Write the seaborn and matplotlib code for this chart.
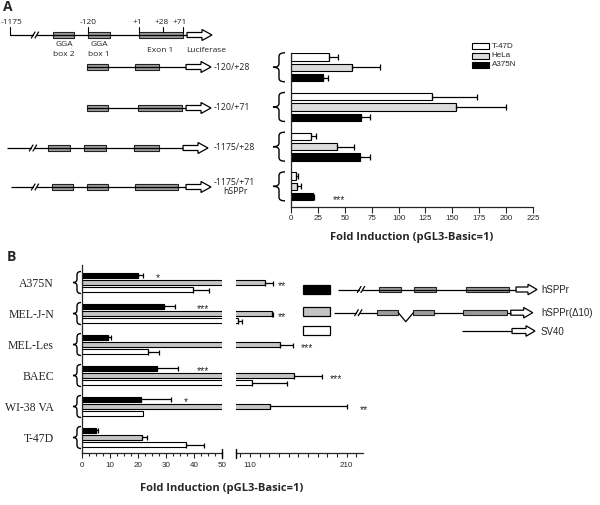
import numpy as np
import pandas as pd
import matplotlib
matplotlib.use("Agg")
import matplotlib.pyplot as plt
import seaborn as sns
from matplotlib.patches import Rectangle, Polygon, PathPatch
from matplotlib.path import Path

# ---------------- data ----------------
# Panel A
constructs_A = ['-120/+28', '-120/+71', '-1175/+28', '-1175/+71']
cells_A = ['T-47D', 'HeLa', 'A375N']
t47d_A = [35, 131, 18.6, 4.6]
t47d_A_err = [9, 42, 4.6, 1.6]
hela_A = [57, 153, 42.5, 5.9]
hela_A_err = [26, 47, 16.5, 3.4]
a375n_A = [30, 65, 64, 20]
a375n_A_err = [4.7, 8, 9.5, 1.7]
stars_A = ['', '', '', '***']          # for A375N bars
ticks_A = [0, 25, 50, 75, 100, 125, 150, 175, 200, 225]

# Panel B
cells_B = ['A375N', 'MEL-J-N', 'MEL-Les', 'BAEC', 'WI-38 VA', 'T-47D']
promoters_B = ['hSPPr', 'hSPPr(\u039410)', 'SV40']
hsppr_B = [20.1, 29.3, 9.5, 26.7, 21.0, 5.0]
hsppr_B_err = [1.6, 3.9, 0.9, 7.7, 10.8, 0.9]
d10_B = [125.5, 132.4, 141, 155.4, 130.6, 21.6]
d10_B_err = [8.5, 1, 13, 28.6, 80, 1.7]
sv40_B = [39.5, 98, 23.7, 111.8, 21.9, 37.1]
sv40_B_err = [5.9, 3.5, 3.9, 36, 0, 6.5]
stars_hsppr = ['*', '***', '', '***', '*', '']
stars_d10 = ['**', '**', '***', '***', '**', '']

# ---------------- style ----------------
sns.set_style("ticks")
plt.rcParams['font.family'] = ['Liberation Sans', 'DejaVu Sans']

W, H = 600, 505
fig = plt.figure(figsize=(6, 5.05), dpi=100)

def rect(x0, y0, x1, y1):
    return [x0 / W, 1 - y1 / H, (x1 - x0) / W, (y1 - y0) / H]

axA = fig.add_axes(rect(291, 53, 533, 207))
axB1 = fig.add_axes(rect(81.7, 265, 222.3, 453.3))
axB2 = fig.add_axes(rect(236, 265, 362.7, 453.3))

ov = fig.add_axes([0, 0, 1, 1], zorder=10)
ov.set_xlim(0, W)
ov.set_ylim(H, 0)
ov.axis('off')
ov.patch.set_alpha(0)

BOXG = '#9b9b9b'
colA = ['#ffffff', '#dcdcdc', '#000000']
colB = ['#000000', '#c4c4c4', '#ffffff']
STAR_FS = 7.5

# ---------------- panel A bars ----------------
dfA = pd.DataFrame({
    'construct': constructs_A * 3,
    'cell': np.repeat(cells_A, len(constructs_A)),
    'fold': t47d_A + hela_A + a375n_A,
    'err': t47d_A_err + hela_A_err + a375n_A_err,
})
sns.barplot(data=dfA, y='construct', x='fold', hue='cell', order=constructs_A,
            hue_order=cells_A, palette=colA, orient='h', width=0.78, gap=0.3,
            edgecolor='black', linewidth=0.8, errorbar=None, legend=False, ax=axA)
for p, e in zip(list(axA.patches), dfA['err']):
    y = p.get_y() + p.get_height() / 2
    axA.errorbar(p.get_width(), y, xerr=[[0], [e]], fmt='none', ecolor='black',
                 elinewidth=0.9, capsize=2, capthick=0.9)
a375_patches = list(axA.patches)[2 * len(constructs_A):]
for p, s in zip(a375_patches, stars_A):
    if s:
        axA.text(p.get_width() + 25, p.get_y() + p.get_height() / 2 + 0.08, s,
                 ha='center', va='center', fontsize=STAR_FS)
axA.set_xlim(0, 225)
axA.set_ylim(3.52, -0.36)
axA.set_xticks(ticks_A)
axA.set_yticks([])
axA.set_ylabel('')
axA.set_xlabel('Fold Induction (pGL3-Basic=1)', fontsize=8, fontweight='bold',
               family='Open Sans', labelpad=7)
axA.tick_params(axis='x', length=4, width=0.8, labelsize=5.8, pad=2)
sns.despine(ax=axA)
for s in ['left', 'bottom']:
    axA.spines[s].set_linewidth(0.9)

# ---------------- panel B bars ----------------
dfB = pd.DataFrame({
    'cell': cells_B * 3,
    'promoter': np.repeat(promoters_B, len(cells_B)),
    'fold': hsppr_B + d10_B + sv40_B,
    'err': hsppr_B_err + d10_B_err + sv40_B_err,
})
for ax in (axB1, axB2):
    sns.barplot(data=dfB, y='cell', x='fold', hue='promoter', order=cells_B,
                hue_order=promoters_B, palette=colB, orient='h', width=0.71,
                gap=0.3, edgecolor='black', linewidth=0.8, errorbar=None,
                legend=False, ax=ax)
    ax.set_ylim(5.51, -0.565)
    ax.set_xlabel('')
    ax.set_ylabel('')

for p, e in zip(list(axB1.patches), dfB['err']):
    v = p.get_width()
    if e <= 0:
        continue
    y = p.get_y() + p.get_height() / 2
    target = axB1 if v < 50 else axB2
    target.errorbar(v, y, xerr=[[0], [e]], fmt='none', ecolor='black',
                    elinewidth=0.9, capsize=1.8, capthick=0.9)

pB = list(axB1.patches)
nB = len(cells_B)
star_x_hsppr = [27, 43.3, 0, 43.3, 37, 0]
star_x_d10 = [143, 143, 168.5, 198.7, 227.5, 0]
for i in range(nB):
    p = pB[i]
    if stars_hsppr[i]:
        axB1.text(star_x_hsppr[i], p.get_y() + p.get_height() / 2 + 0.1,
                  stars_hsppr[i], ha='center', va='center', fontsize=STAR_FS)
    p = pB[nB + i]
    if stars_d10[i]:
        axB2.text(star_x_d10[i], p.get_y() + p.get_height() / 2 + 0.1,
                  stars_d10[i], ha='center', va='center', fontsize=STAR_FS,
                  clip_on=False)

axB1.set_xlim(0, 50)
axB1.set_xticks([0, 10, 20, 30, 40, 50])
axB1.set_xticks(np.arange(0, 50.1, 2.5), minor=True)
axB1.tick_params(axis='x', which='major', length=3.5, width=0.8, labelsize=5.8, pad=3)
axB1.tick_params(axis='x', which='minor', length=2.5, width=0.8)
axB1.tick_params(axis='y', length=0, pad=20)
for lab in axB1.get_yticklabels():
    lab.set_family('Liberation Serif')
    lab.set_fontsize(8.5)
sns.despine(ax=axB1)
for s in ['left', 'bottom']:
    axB1.spines[s].set_linewidth(0.9)

axB2.set_xlim(95.5, 226.5)
rt = list(range(100, 221, 10))
axB2.set_xticks(rt)
axB2.set_xticklabels([str(v) if v in (110, 210) else '' for v in rt])
axB2.tick_params(axis='x', length=3, width=0.8, labelsize=5.8, pad=3)
axB2.set_yticks([])
sns.despine(ax=axB2, left=True)
axB2.spines['bottom'].set_linewidth(0.9)

# break caps
for x in (222.3, 236):
    ov.plot([x, x], [449, 457.5], color='black', lw=1.0)

fig.text(222 / W, 1 - 488 / H, 'Fold Induction (pGL3-Basic=1)', ha='center',
         va='center', fontsize=8, fontweight='bold', family='Open Sans')

# ---------------- helpers for drawings ----------------
def brace(xt, xr, y0, y1, lw=1.0):
    xm = (xt + xr) / 2
    ym = (y0 + y1) / 2
    r = min(3.5, (y1 - y0) / 4)
    verts = [(xr, y0), (xm, y0), (xm, y0 + r),
             (xm, ym - r),
             (xm, ym), (xt, ym),
             (xm, ym), (xm, ym + r),
             (xm, y1 - r),
             (xm, y1), (xr, y1)]
    codes = [Path.MOVETO, Path.CURVE3, Path.CURVE3,
             Path.LINETO,
             Path.CURVE3, Path.CURVE3,
             Path.CURVE3, Path.CURVE3,
             Path.LINETO,
             Path.CURVE3, Path.CURVE3]
    ov.add_patch(PathPatch(Path(verts, codes), fc='none', ec='black', lw=lw))


def line(x0, x1, y):
    ov.plot([x0, x1], [y, y], color='black', lw=0.9, solid_capstyle='butt')


def box(x0, x1, y, h=5.5, fc=BOXG):
    ov.add_patch(Rectangle((x0, y - h / 2), x1 - x0, h, fc=fc, ec='#222222', lw=0.8))


def arrow(x0, y, L=25, sh=5, hh=11, hl=10):
    pts = [(x0, y - sh / 2), (x0 + L - hl, y - sh / 2), (x0 + L - hl, y - hh / 2),
           (x0 + L, y), (x0 + L - hl, y + hh / 2), (x0 + L - hl, y + sh / 2),
           (x0, y + sh / 2)]
    ov.add_patch(Polygon(pts, closed=True, fc='white', ec='black', lw=0.9))


def brk(x, y):
    ov.add_patch(Rectangle((x - 1.5, y - 1.5), 3, 3, fc='white', ec='none', zorder=3))
    for dx in (-1.8, 1.8):
        ov.plot([x + dx - 1.8, x + dx + 1.8], [y + 3, y - 3], color='black', lw=0.9, zorder=4)


dfont = dict(family='Open Sans', fontsize=6, color='#222222')

# ---------------- panel A diagrams ----------------
ov.text(3, 7, 'A', fontsize=10, fontweight='bold', family='Open Sans', va='center')
y = 35
line(10, 187, y)
brk(35, y)
box(53, 74, y); box(88, 110, y); box(139, 183, y)
arrow(187, y)
for x in (10, 88, 139, 163, 183):
    ov.plot([x, x], [27, 32.3 if x != 10 else y], color='black', lw=0.8)
for x, t in [(12, '-1175'), (88, '-120'), (137, '+1'), (162, '+28'), (180, '+71')]:
    ov.text(x, 22.5, t, ha='center', va='center', **dfont)
ov.text(64, 44, 'GGA', ha='center', va='center', **dfont)
ov.text(64, 54, 'box 2', ha='center', va='center', **dfont)
ov.text(99, 45, 'GGA', ha='center', va='center', **dfont)
ov.text(99, 55, 'box 1', ha='center', va='center', **dfont)
ov.text(160, 50, 'Exon 1', ha='center', va='center', **dfont)
ov.text(206, 50, 'Luciferase', ha='center', va='center', **dfont)

lfont = dict(family='Open Sans', fontsize=6.3, color='#222222')
y = 67
line(87, 186, y); box(87, 108, y); box(135, 159, y); arrow(186, y)
ov.text(214, y, constructs_A[0], ha='left', va='center', **lfont)
y = 108
line(87, 186, y); box(87, 108, y); box(138, 182, y); arrow(186, y)
ov.text(214, y, constructs_A[1], ha='left', va='center', **lfont)
y = 148
line(7, 183, y); brk(33, y); box(48, 70, y); box(84, 106, y); box(134, 159, y); arrow(183, y)
ov.text(214, y, constructs_A[2], ha='left', va='center', **lfont)
y = 187
line(11, 186, y); brk(35, y); box(52, 73, y); box(87, 108, y); box(135, 178, y); arrow(186, y)
ov.text(214, 182.5, constructs_A[3], ha='left', va='center', **lfont)
ov.text(235, 192, 'hSPPr', ha='center', va='center', **lfont)

# braces panel A
for i in range(len(constructs_A)):
    yd = axA.transData.transform((0, i))[1]
    yc = H - yd
    brace(273, 285, yc - 14.5, yc + 14.5)

# legend panel A
for yy, c, t in zip([46, 55.7, 65], colA, cells_A):
    ov.add_patch(Rectangle((472, yy - 3), 17, 6, fc=c, ec='black', lw=0.8))
    ov.text(491.5, yy, t, ha='left', va='center', fontsize=5.8)

# ---------------- panel B drawings ----------------
ov.text(7, 257, 'B', fontsize=10, fontweight='bold', family='Open Sans', va='center')
for i in range(nB):
    yd = axB1.transData.transform((0, i))[1]
    yc = H - yd
    brace(73, 81, yc - 11, yc + 11)

for yy, c in zip([289.5, 311.2, 330.5], colB):
    ov.add_patch(Rectangle((303, yy - 4.5), 27, 9, fc=c, ec='black', lw=0.9))

y = 289.5
line(338, 516, y); brk(361, y)
box(379.3, 400.7, y, 5); box(414.3, 435.7, y, 5); box(465.7, 509, y, 5)
arrow(516, y, L=21, sh=5, hh=10.5, hl=9)
y = 312.7
line(334, 377, y); brk(358.3, y)
box(377.3, 398.3, y, 5)
ov.plot([398.3, 405.8, 413.3], [y, 321.7, y], color='black', lw=0.9)
box(413.3, 434.3, y, 5)
line(434.3, 463.3, y)
box(463.3, 507.3, y, 5)
line(507.3, 510.7, y)
arrow(510.7, y, L=22, sh=5, hh=10.5, hl=9)
y = 331
line(462, 512, y)
arrow(512, y, L=23, sh=5, hh=10.5, hl=9)
for yy, t in zip([290, 313, 332], promoters_B):
    ov.text(541, yy, t, ha='left', va='center', fontsize=7)

fig.savefig('out.png', dpi=100)
